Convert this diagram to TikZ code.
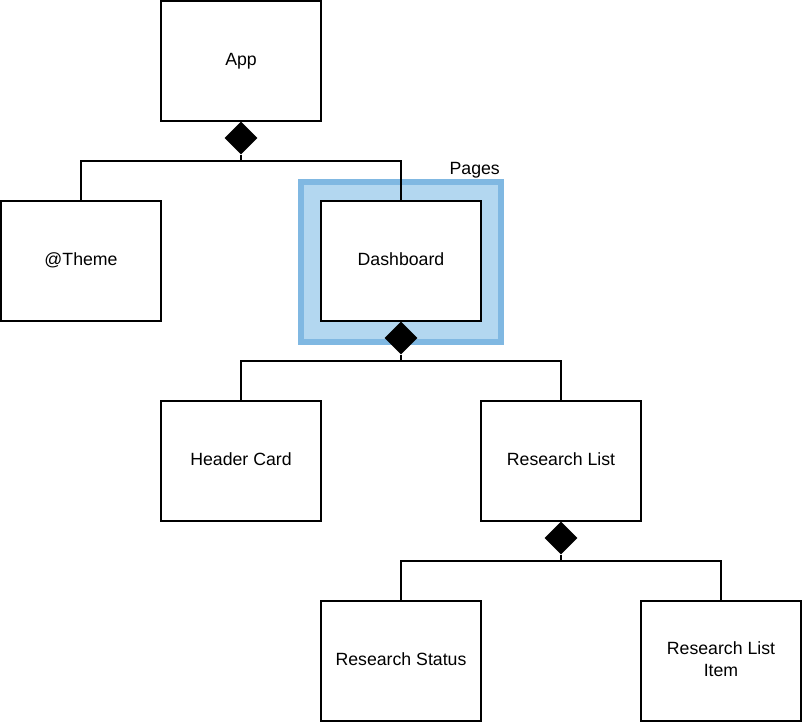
\documentclass[tikz,border=0pt]{standalone}
\usepackage{fontspec}
\setmainfont{Liberation Sans}
\usetikzlibrary{shapes.geometric}
\definecolor{pgborder}{RGB}{128,184,226}
\definecolor{pgfill}{RGB}{179,215,240}
\tikzset{
  compbox/.style={draw=black, line width=2pt, fill=white, minimum width=160pt, minimum height=120pt, inner sep=0pt, align=center, text height=12.8pt, text depth=4pt, font=\fontsize{17.7}{22}\selectfont},
  twoline/.style={text height=34.8pt},
  comp/.style={fill=black, draw=none, diamond, minimum width=33pt, minimum height=33pt, inner sep=0pt},
  conn/.style={line width=2pt, draw=black},
}
\begin{document}
\begin{tikzpicture}[x=1pt,y=-1pt]
\useasboundingbox (0,0) rectangle (802,723);
% Pages highlight
\node[draw=pgborder, fill=pgfill, line width=6pt, minimum width=200pt, minimum height=160pt, inner sep=0pt] (pages) at (401,262) {};
\node[anchor=base east, font=\fontsize{17.7}{22}\selectfont, inner sep=0pt] (pageslbl) at (500,174) {Pages};
% boxes
\node[compbox] (app) at (241,61) {App};
\node[compbox] (theme) at (81,261) {@Theme};
\node[compbox] (dash) at (401,261) {Dashboard};
\node[compbox] (header) at (241,461) {Header Card};
\node[compbox] (rlist) at (561,461) {Research List};
\node[compbox] (rstatus) at (401,661) {Research Status};
\node[compbox, twoline] (ritem) at (721,661) {Research List\\Item};
% diamonds
\node[comp] (d1) at (241,138) {};
\node[comp] (d2) at (401,338) {};
\node[comp] (d3) at (561,538) {};
\coordinate (j1) at (241,161);
\coordinate (j2) at (401,361);
\coordinate (j3) at (561,561);
\draw[conn] (d1.south) -- (j1) -| (theme.north);
\draw[conn] (j1) -| (dash.north);
\draw[conn] (d2.south) -- (j2) -| (header.north);
\draw[conn] (j2) -| (rlist.north);
\draw[conn] (d3.south) -- (j3) -| (rstatus.north);
\draw[conn] (j3) -| (ritem.north);
\end{tikzpicture}
\end{document}
